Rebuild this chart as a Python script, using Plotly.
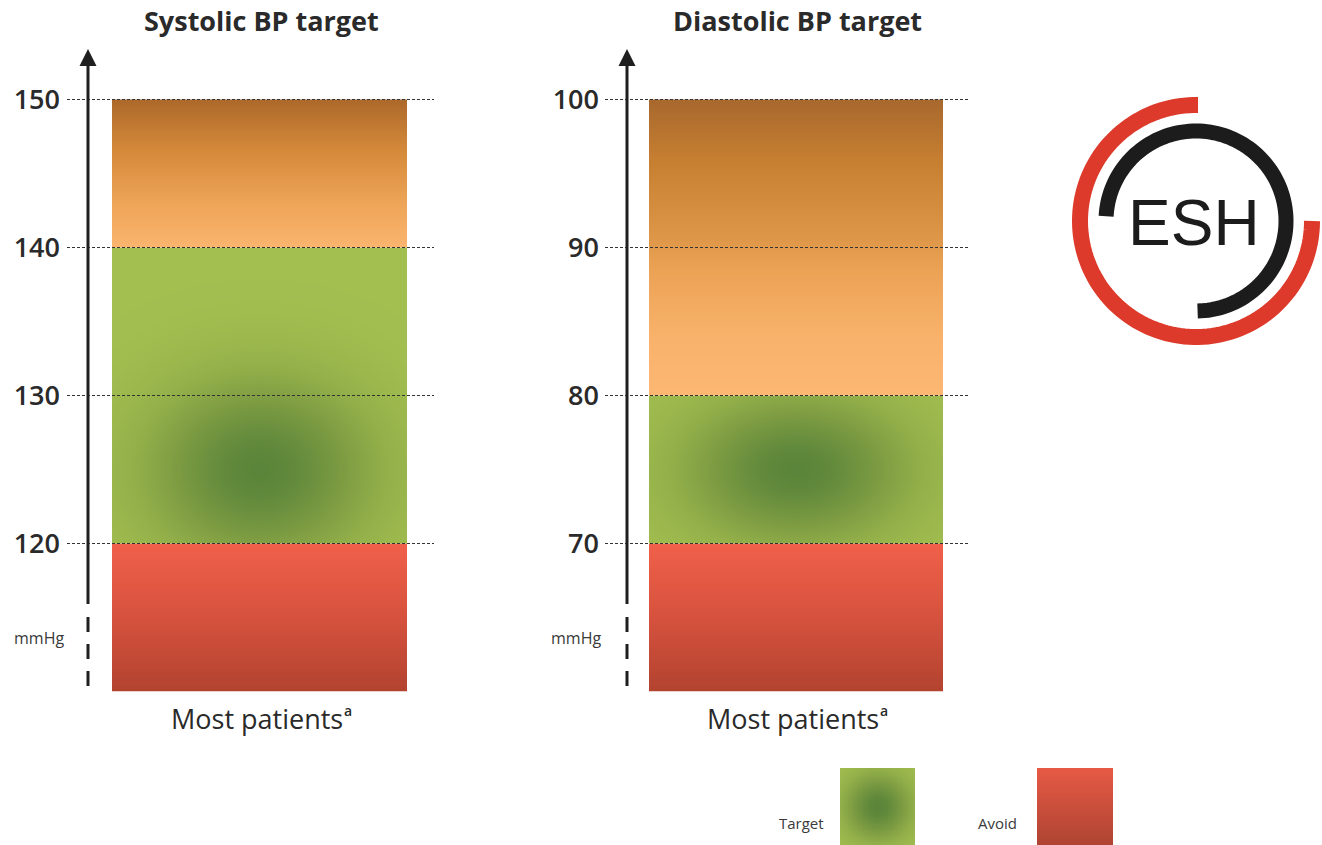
import numpy as np
import plotly.graph_objects as go

W, H = 1322, 845

# ---- data: blood-pressure bands (mmHg) ----
sys_ticks = [120, 130, 140, 150]
sys_avoid = [110, 120]
sys_target = [120, 140]
sys_above = [140, 150]
sys_optimum = 125

dia_ticks = [70, 80, 90, 100]
dia_avoid = [60, 70]
dia_target = [70, 80]
dia_above = [80, 100]
dia_optimum = 75

titles = ["Systolic BP target", "Diastolic BP target"]
group_label = "Most patients"
footnote_mark = "a"
unit_label = "mmHg"
legend_labels = ["Target", "Avoid"]
logo_text = "ESH"

# ---- geometry helpers (pixels -> paper fractions) ----
def px(x):
    return x / W


def py(y):
    return 1 - y / H


PX_PER_MMHG = 14.8
BAR_BOTTOM = 691.5
AXIS_TOP = 45.0
SPAN = (BAR_BOTTOM - AXIS_TOP) / PX_PER_MMHG

panels = [
    dict(bar=(112, 407), axis_x=88, grid=(67, 434), cx=257,
         lo=sys_avoid[0], ticks=sys_ticks, unit_x=12, blob=(150, 122)),
    dict(bar=(649, 943), axis_x=627, grid=(605, 968), cx=793,
         lo=dia_avoid[0], ticks=dia_ticks, unit_x=549, blob=(150, 98)),
]

# ---- colour ramps (0 = bottom of band, 1 = top) ----
orange_sys = [[0, "#fbb56f"], [0.3, "#eea558"], [0.65, "#d68a3b"], [1, "#ad692b"]]
orange_dia = [[0, "#fcb773"], [0.2, "#f9b26b"], [0.42, "#eca356"],
              [0.55, "#dc9446"], [0.8, "#c67f31"], [1, "#a8682e"]]
red_ramp = [[0, "#b2432f"], [0.5, "#d6523e"], [1, "#f0604a"]]
green_ramp = [[0, "#a3bf50"], [0.5, "#809e43"], [1, "#5b853a"]]

FONT = "Open Sans, Noto Sans, sans-serif"
INK = "#2a2a2a"


def vband(lo, hi, ramp, xa, ya, n=160):
    ye = np.linspace(lo, hi, n + 1)
    t = ((ye[:-1] + ye[1:]) / 2 - lo) / (hi - lo)
    z = np.column_stack([t, t])
    return go.Heatmap(x=[0, 0.5, 1], y=ye, z=z, zmin=0, zmax=1,
                      colorscale=ramp, zsmooth="best", showscale=False,
                      hoverinfo="skip", xaxis=xa, yaxis=ya)


def blob(lo, hi, centre, width_px, unit_px, rx, ry, xa, ya, n=90):
    xe = np.linspace(0, 1, n + 1)
    ye = np.linspace(lo, hi, n + 1)
    xc = (xe[:-1] + xe[1:]) / 2
    yc = (ye[:-1] + ye[1:]) / 2
    dx = (xc - 0.5) * width_px / rx
    dy = (yc - centre) * unit_px / ry
    d2 = dx[None, :] ** 2 + dy[:, None] ** 2
    z = np.exp(-2.0 * d2)
    return go.Heatmap(x=xe, y=ye, z=z, zmin=0, zmax=1,
                      colorscale=green_ramp, zsmooth="best", showscale=False,
                      hoverinfo="skip", xaxis=xa, yaxis=ya)


fig = go.Figure()

# systolic column
fig.add_trace(vband(*sys_avoid, red_ramp, "x", "y"))
fig.add_trace(blob(*sys_target, sys_optimum, 295, PX_PER_MMHG,
                   *panels[0]["blob"], "x", "y"))
fig.add_trace(vband(*sys_above, orange_sys, "x", "y"))

# diastolic column
fig.add_trace(vband(*dia_avoid, red_ramp, "x2", "y2"))
fig.add_trace(blob(*dia_target, dia_optimum, 294, PX_PER_MMHG,
                   *panels[1]["blob"], "x2", "y2"))
fig.add_trace(vband(*dia_above, orange_dia, "x2", "y2"))

# legend swatches
fig.add_trace(blob(0, 1, 0.5, 75, 77, 45, 45, "x3", "y3"))
fig.add_trace(vband(0, 1, [[0, "#ae4432"], [1, "#e65a45"]], "x4", "y4"))

layout = dict(
    width=W, height=H, margin=dict(l=0, r=0, t=0, b=0),
    paper_bgcolor="white", plot_bgcolor="rgba(0,0,0,0)",
    showlegend=False,
)

shapes = []
annotations = []


def label(x, y, text, size, weight="normal", color=INK, family=FONT, xanchor="center"):
    annotations.append(dict(x=px(x), y=py(y), xref="paper", yref="paper",
                            xanchor=xanchor, yanchor="middle", text=text,
                            showarrow=False,
                            font=dict(family=family, size=size, color=color,
                                      weight=weight)))


for i, p in enumerate(panels):
    sx = "" if i == 0 else "2"
    ax = p["axis_x"]
    layout["xaxis" + sx] = dict(domain=[px(p["bar"][0]), px(p["bar"][1])],
                                range=[0, 1], visible=False, fixedrange=True)
    layout["yaxis" + sx] = dict(
        domain=[py(BAR_BOTTOM), py(AXIS_TOP)], range=[p["lo"], p["lo"] + SPAN],
        anchor="free", position=px(ax), tickvals=p["ticks"],
        ticks="", showline=False, showgrid=False, zeroline=False,
        tickfont=dict(family=FONT, size=27, color=INK, weight=600),
        ticklabelstandoff=28, automargin=False, fixedrange=True,
    )
    yref = "y" + sx
    # dashed guide lines at every labelled value
    for t in p["ticks"]:
        shapes.append(dict(type="line", xref="paper", yref=yref,
                           x0=px(p["grid"][0]), x1=px(p["grid"][1]), y0=t, y1=t,
                           line=dict(color="#333333", width=1, dash="3px,2px"),
                           layer="above"))
    # value axis: solid shaft, arrow head, broken lower part
    shapes.append(dict(type="line", xref="paper", yref="paper",
                       x0=px(ax), x1=px(ax), y0=py(604), y1=py(62),
                       line=dict(color="#1f1f1f", width=3)))
    shapes.append(dict(type="path", xref="paper", yref="paper",
                       path="M%.5f,%.5f L%.5f,%.5f L%.5f,%.5f Z" % (
                           px(ax - 8.5), py(66), px(ax), py(49), px(ax + 8.5), py(66)),
                       fillcolor="#1f1f1f", line=dict(width=0)))
    shapes.append(dict(type="line", xref="paper", yref="paper",
                       x0=px(ax), x1=px(ax), y0=py(617), y1=py(691),
                       line=dict(color="#1f1f1f", width=3, dash="15px,12px")))

    label(p["cx"] + 4, 21, titles[i], 27, weight="bold")
    label(p["cx"], 718, group_label, 27)
    label(p["cx"] + 91, 710, footnote_mark, 14, weight=600)
    label(p["unit_x"], 638, unit_label, 16, color="#3a3a3a", xanchor="left")

# legend swatch axes
for sx, (x0, x1) in (("3", (840, 915)), ("4", (1037, 1113))):
    layout["xaxis" + sx] = dict(domain=[px(x0), px(x1)], range=[0, 1], anchor="y" + sx,
                                visible=False, fixedrange=True)
    layout["yaxis" + sx] = dict(domain=[py(845), py(768)], range=[0, 1], anchor="x" + sx,
                                visible=False, fixedrange=True)

for text, cx in zip(legend_labels, (801, 997)):
    label(cx, 823, text, 15, color="#3a3a3a")

# ESH logo: two open rings and the lettering
LOGO_C = (1196, 221)


def arc_path(r, a0, a1, n=120):
    a = np.radians(np.linspace(a0, a1, n))
    xs = LOGO_C[0] + r * np.cos(a)
    ys = LOGO_C[1] - r * np.sin(a)
    pts = ["%.5f,%.5f" % (px(x), py(y)) for x, y in zip(xs, ys)]
    return "M" + " L".join(pts)


shapes.append(dict(type="path", xref="paper", yref="paper",
                   path=arc_path(116, 89, 360), line=dict(color="#dd3a2b", width=16)))
shapes.append(dict(type="path", xref="paper", yref="paper",
                   path=arc_path(90, 177, -89), line=dict(color="#1c1c1c", width=15)))
label(1194, 223, logo_text, 64, color="#1c1c1c", family="Liberation Sans, Arial, sans-serif")

layout["shapes"] = shapes
layout["annotations"] = annotations
fig.update_layout(**layout)

fig.write_html("out.html", config={"displayModeBar": False})
